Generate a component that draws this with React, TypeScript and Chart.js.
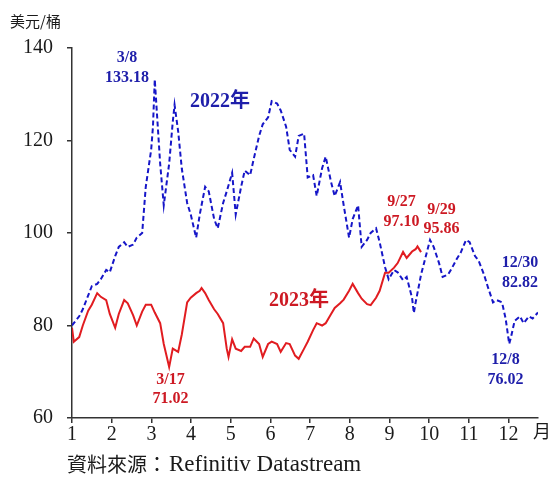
import React, { useEffect, useRef } from 'react';
import { Chart, registerables } from 'chart.js';

Chart.register(...registerables);

// ---- data ----
const DATES_2022 = [
  '1/3', '1/4', '1/7', '1/11', '1/14', '1/18', '1/21', '1/25', '1/28',
  '2/1', '2/4', '2/8', '2/11', '2/15', '2/18', '2/22', '2/25',
  '3/1', '3/4', '3/7', '3/8', '3/11', '3/15', '3/18', '3/22', '3/23', '3/25', '3/29',
  '4/1', '4/5', '4/8', '4/12', '4/15', '4/19', '4/22', '4/26', '4/29',
  '5/3', '5/6', '5/10', '5/13', '5/17', '5/20', '5/24', '5/27', '5/31',
  '6/3', '6/7', '6/10', '6/14', '6/17', '6/21', '6/24', '6/28',
  '7/1', '7/5', '7/8', '7/12', '7/15', '7/19', '7/22', '7/26', '7/29',
  '8/2', '8/5', '8/9', '8/12', '8/16', '8/19', '8/23', '8/26', '8/30',
  '9/2', '9/6', '9/9', '9/13', '9/16', '9/20', '9/23', '9/26', '9/27', '9/30',
  '10/4', '10/7', '10/11', '10/14', '10/18', '10/21', '10/25', '10/28',
  '11/1', '11/4', '11/8', '11/11', '11/15', '11/18', '11/22', '11/25', '11/29',
  '12/2', '12/6', '12/8', '12/9', '12/13', '12/16', '12/20', '12/23', '12/27', '12/30',
];
const VALUES_2022 = [
  80, 80.5, 82, 83.5, 86.5, 88.5, 89, 90, 92,
  91.5, 95, 97, 98, 97, 97.5, 99, 100,
  110, 118, 123, 133.18, 115, 106, 115, 124, 127.7, 122, 114,
  106.5, 104, 99, 104, 110, 109, 103, 101, 106.5,
  109, 113, 104, 110, 113.5, 112.5, 116, 121, 123.5,
  125, 128.5, 128, 126.5, 123, 118, 116.5, 121,
  121.5, 112, 112.5, 108, 114, 116.5, 111, 108, 111,
  106, 99, 103, 106, 97, 98.5, 100, 101, 98,
  92.6, 90, 92, 91.5, 89.8, 90.5, 86, 82.7, 85, 91,
  94, 98.5, 97, 93.5, 90.5, 91, 92.3, 94.5,
  95.7, 98.5, 98, 95, 94, 91, 88.5, 85, 85.5,
  85, 81.5, 76.02, 77.5, 81, 82, 80.5, 82, 81.5, 82.82,
];

const DATES_2023 = [
  '1/2', '1/3', '1/6', '1/10', '1/13', '1/17', '1/20', '1/24', '1/27', '1/31',
  '2/3', '2/7', '2/10', '2/14', '2/17', '2/21', '2/24', '2/28',
  '3/3', '3/7', '3/10', '3/14', '3/17', '3/21', '3/24', '3/28', '3/31',
  '4/4', '4/7', '4/11', '4/12', '4/14', '4/18', '4/21', '4/25', '4/28',
  '5/2', '5/3', '5/5', '5/9', '5/12', '5/16', '5/19', '5/23', '5/26', '5/30',
  '6/2', '6/6', '6/9', '6/13', '6/16', '6/20', '6/23', '6/27', '6/30',
  '7/4', '7/7', '7/11', '7/14', '7/18', '7/21', '7/25', '7/28',
  '8/1', '8/4', '8/8', '8/11', '8/15', '8/18', '8/22', '8/25', '8/29',
  '9/1', '9/5', '9/8', '9/12', '9/15', '9/19', '9/22', '9/26', '9/27', '9/29',
];
const VALUES_2023 = [
  79.5, 76.5, 77.5, 80, 83.2, 84.5, 87, 86.2, 85.5, 82.5,
  79.5, 82.5, 85.5, 84.8, 82.2, 80, 83, 84.5,
  84.5, 82.8, 80.5, 76, 71.02, 75, 74.3, 78, 85,
  86, 87, 87.5, 88.1, 87, 85.5, 83.5, 82.5, 80.5,
  75, 73.2, 77, 75, 74.5, 75.4, 75.4, 77.2, 76, 73.2,
  76, 76.5, 76, 74.3, 76.2, 76, 73.5, 72.8, 75,
  76.5, 79, 80.5, 80, 80.5, 82.5, 83.8, 84.8,
  85.6, 87.5, 89, 87, 85.8, 84.6, 84.4, 86, 87.5,
  91.4, 91.4, 92.5, 93.5, 95.9, 94.6, 96, 96.5, 97.1, 95.86,
];

const MONTH_LABELS = ['1', '2', '3', '4', '5', '6', '7', '8', '9', '10', '11', '12'];
const Y_MIN = 60;
const Y_MAX = 140;
const Y_STEP = 20;

const SERIES_2022_NAME = '2022年';
const SERIES_2023_NAME = '2023年';
const UNIT_LABEL = '美元/桶';
const MONTH_UNIT = '月';
const SOURCE_PREFIX = '資料來源：';
const SOURCE_NAME = 'Refinitiv Datastream';

// ---- styling / layout ----
const W = 549;
const H = 479;
const BLUE_LINE = 'rgb(22,22,200)';
const BLUE_TEXT = 'rgb(30,30,170)';
const RED_LINE = 'rgb(225,28,32)';
const RED_TEXT = 'rgb(205,25,35)';
const AXIS_COLOR = '#333';
const TEXT_COLOR = '#1a1a1a';
const SERIF = '"Liberation Serif", "Times New Roman", "Noto Sans CJK TC", serif';
const X_MIN = 1;
const X_MAX = 260; // trading days in the year
const TICK_STEP = 22.06;

// annotation anchors (x: trading-day index, y: value)
const ANNOTATIONS = [
  { lines: ['3/8', '133.18'], x: 31.6, y: 135.7, color: BLUE_TEXT, size: 16 },
  { lines: [SERIES_2022_NAME], x: 83.3, y: 128.3, color: BLUE_TEXT, size: 20 },
  { lines: [SERIES_2023_NAME], x: 127.2, y: 85.3, color: RED_TEXT, size: 20 },
  { lines: ['3/17', '71.02'], x: 55.7, y: 66.2, color: RED_TEXT, size: 16 },
  { lines: ['9/27', '97.10'], x: 184.1, y: 104.6, color: RED_TEXT, size: 16 },
  { lines: ['9/29', '95.86'], x: 206.4, y: 103.0, color: RED_TEXT, size: 16 },
  { lines: ['12/30', '82.82'], x: 250.0, y: 91.4, color: BLUE_TEXT, size: 16 },
  { lines: ['12/8', '76.02'], x: 241.9, y: 70.4, color: BLUE_TEXT, size: 16 },
];

function tradingDayIndex(year: number, md: string): number {
  const [m, d] = md.split('/').map(Number);
  const end = new Date(year, m - 1, d);
  let count = 0;
  for (let t = new Date(year, 0, 1); t <= end; t.setDate(t.getDate() + 1)) {
    const wd = t.getDay();
    if (wd !== 0 && wd !== 6) count++;
  }
  return count;
}

function toPoints(year: number, dates: string[], values: number[]) {
  return dates.map((d, i) => ({ x: tradingDayIndex(year, d), y: values[i] }));
}

const textPlugin = {
  id: 'textPlugin',
  afterDraw(chart: any) {
    const ctx = chart.ctx;
    const xs = chart.scales.x;
    const ys = chart.scales.y;
    ctx.save();
    ctx.textAlign = 'center';
    ctx.textBaseline = 'middle';
    for (const a of ANNOTATIONS) {
      const cx = xs.getPixelForValue(a.x);
      const cy = ys.getPixelForValue(a.y);
      ctx.font = `bold ${a.size}px ${SERIF}`;
      ctx.fillStyle = a.color;
      const gap = 19.5;
      const n = a.lines.length;
      a.lines.forEach((ln, i) => {
        ctx.fillText(ln, cx, cy + (i - (n - 1) / 2) * gap);
      });
    }
    ctx.fillStyle = TEXT_COLOR;
    ctx.textAlign = 'left';
    ctx.font = `15px "Noto Sans CJK TC", sans-serif`;
    ctx.fillText(UNIT_LABEL, 10, 21);
    ctx.font = `18px ${SERIF}`;
    ctx.textAlign = 'center';
    ctx.fillText(MONTH_UNIT, chart.chartArea.right + 4, 433);
    ctx.textAlign = 'left';
    ctx.font = `20px "Noto Sans CJK TC", sans-serif`;
    ctx.fillText(SOURCE_PREFIX, 67, 464);
    const pw = ctx.measureText(SOURCE_PREFIX).width;
    ctx.font = `23px ${SERIF}`;
    ctx.fillText(SOURCE_NAME, 67 + pw + 2, 465);
    ctx.restore();
  },
};

export default function App() {
  const ref = useRef<HTMLCanvasElement | null>(null);
  useEffect(() => {
    if (!ref.current) return;
    const chart = new Chart(ref.current, {
      type: 'line',
      data: {
        datasets: [
          {
            label: SERIES_2022_NAME,
            data: toPoints(2022, DATES_2022, VALUES_2022),
            borderColor: BLUE_LINE,
            borderWidth: 2,
            borderDash: [5, 3],
            pointRadius: 0,
            tension: 0,
            fill: false,
          },
          {
            label: SERIES_2023_NAME,
            data: toPoints(2023, DATES_2023, VALUES_2023),
            borderColor: RED_LINE,
            borderWidth: 2,
            pointRadius: 0,
            tension: 0,
            fill: false,
          },
        ],
      },
      options: {
        animation: false,
        responsive: false,
        devicePixelRatio: 1,
        layout: { padding: { top: 48, right: 11, left: 0, bottom: 0 } },
        plugins: {
          legend: { display: false },
          tooltip: { enabled: false },
          title: { display: false },
        },
        scales: {
          x: {
            type: 'linear',
            min: X_MIN,
            max: X_MAX,
            afterBuildTicks: (scale: any) => {
              scale.ticks = MONTH_LABELS.map((_, k) => ({ value: X_MIN + k * TICK_STEP }));
            },
            afterFit: (scale: any) => {
              scale.height = 61;
            },
            ticks: {
              autoSkip: false,
              maxRotation: 0,
              padding: 0,
              color: TEXT_COLOR,
              font: { family: SERIF, size: 20 },
              callback: (_v: any, i: number) => MONTH_LABELS[i],
            },
            grid: {
              drawOnChartArea: false,
              drawTicks: true,
              tickLength: 5,
              color: AXIS_COLOR,
              lineWidth: 1.5,
            },
            border: { display: true, color: AXIS_COLOR, width: 1.5 },
          },
          y: {
            min: Y_MIN,
            max: Y_MAX,
            afterFit: (scale: any) => {
              scale.width = 72;
            },
            ticks: {
              stepSize: Y_STEP,
              padding: 14,
              color: TEXT_COLOR,
              font: { family: SERIF, size: 20 },
            },
            grid: {
              drawOnChartArea: false,
              drawTicks: true,
              tickLength: 5,
              color: AXIS_COLOR,
              lineWidth: 1.5,
            },
            border: { display: true, color: AXIS_COLOR, width: 1.5 },
          },
        },
      },
      plugins: [textPlugin],
    } as any);
    return () => chart.destroy();
  }, []);
  return (
    <div style={{ position: 'absolute', left: 0, top: 0, width: W, height: H, background: '#fff' }}>
      <canvas ref={ref} width={W} height={H} style={{ width: W, height: H, display: 'block' }} />
    </div>
  );
}
